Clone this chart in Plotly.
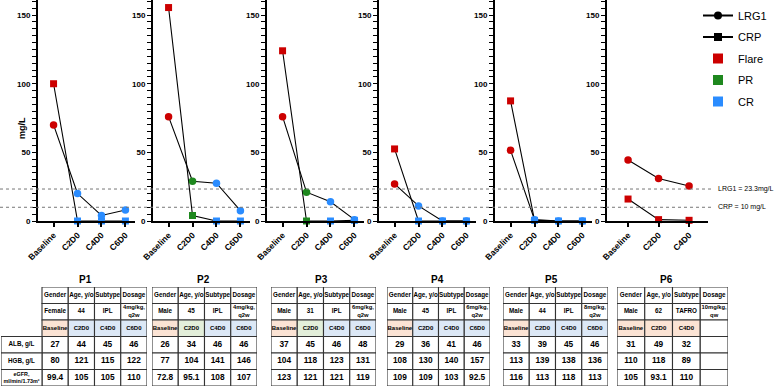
import plotly.graph_objects as go

W, H = 778, 392
FONT = "Liberation Sans, Arial, sans-serif"

# ---------------- data ----------------
patients = ["P1", "P2", "P3", "P4", "P5", "P6"]
timepoints = ["Baseline", "C2D0", "C4D0", "C6D0"]

lrg1 = [
    [70, 20, 4, 8],
    [76, 29, 27.5, 7.5],
    [76, 21, 14, 1],
    [27, 11, 0, 0],
    [51.5, 1, 0, 0],
    [44.5, 31, 25.5],
]
crp = [
    [100, 0, 0, 0],
    [155.5, 4, 0, 0],
    [124, 0, 0, 0.5],
    [52.5, 0, 0, 0],
    [87.5, 0.5, 0, 0],
    [16, 1, 0.5],
]
status = [
    ["Flare", "CR", "CR", "CR"],
    ["Flare", "PR", "CR", "CR"],
    ["Flare", "PR", "CR", "CR"],
    ["Flare", "CR", "CR", "CR"],
    ["Flare", "CR", "CR", "CR"],
    ["Flare", "Flare", "Flare"],
]
ref_values = [23.3, 10]
ref_labels = ["LRG1 = 23.3mg/L", "CRP = 10 mg/L"]
y_tick_step = 5
y_label_step = 50

table_header = ["Gender", "Age, y/o", "Subtype", "Dosage"]
gender = ["Female", "Male", "Male", "Male", "Male", "Male"]
age = ["44", "45", "31", "45", "44", "62"]
subtype = ["IPL", "IPL", "IPL", "IPL", "IPL", "TAFRO"]
dosage = ["4mg/kg,<br>q2w", "4mg/kg,<br>q2w", "6mg/kg,<br>q2w", "6mg/kg,<br>q2w",
          "8mg/kg,<br>q2w", "10mg/kg,<br>qw"]
row_labels = ["ALB, g/L", "HGB, g/L", "eGFR,<br>ml/min/1.73m²"]
alb = [[27, 44, 45, 46], [26, 34, 46, 46], [37, 45, 46, 48],
       [29, 36, 41, 46], [33, 39, 45, 46], [31, 49, 32]]
hgb = [[80, 121, 115, 122], [77, 104, 141, 146], [104, 118, 123, 131],
       [108, 130, 140, 157], [113, 139, 138, 136], [110, 118, 89]]
egfr = [["99.4", "105", "105", "110"], ["72.8", "95.1", "108", "107"],
        ["123", "121", "121", "119"], ["109", "109", "103", "92.5"],
        ["116", "113", "118", "113"], ["105", "93.1", "110"]]

# ---------------- styles ----------------
marker_color = {"Flare": "#CC0000", "PR": "#1E881E", "CR": "#2A8CFF"}
fill_color = {"Flare": "#FBE3D4", "PR": "#E3EFDA", "CR": "#DCE8F6"}

# layout geometry (pixels)
plot_left = [38, 153, 267, 379, 495, 607]
plot_len = [97, 97, 97, 97, 97, 101]
x_ranges = [[-0.65, 3.4]] * 5 + [[-0.69, 2.62]]
plot_bottom_px = 221
y_range = [0, 161]
table_left = [42, 152, 271, 387, 503, 617]
table_w = [105, 105, 105, 103, 105, 111]
label_col_w = 41
table_top_px, table_bot_px = 287, 386
title_x = [85, 203, 321, 437, 551, 666]
title_y = 279


def px(x):
    return x / W


def py(y):
    return 1 - y / H


y_tickvals = list(range(0, int(y_range[1]) + 1, y_tick_step))
y_ticktext = [str(v) if v % y_label_step == 0 else "" for v in y_tickvals]

fig = go.Figure()
layout = dict(
    template="none",
    width=W, height=H, margin=dict(l=0, r=0, t=0, b=0, pad=0),
    paper_bgcolor="white", plot_bgcolor="rgba(0,0,0,0)",
    font=dict(family=FONT, color="black"),
    showlegend=True,
    legend=dict(x=px(698), y=py(1), xanchor="left", yanchor="top",
                font=dict(size=11, family=FONT, color="black"),
                bgcolor="rgba(0,0,0,0)", tracegroupgap=2.5, itemwidth=30),
)
shapes = []
annotations = []

for i, p in enumerate(patients):
    k = i + 1
    xs = "x" if k == 1 else f"x{k}"
    ys = "y" if k == 1 else f"y{k}"
    n = len(lrg1[i])
    cats = timepoints[:n]
    cols = [marker_color[s] for s in status[i]]
    for vals, sym, msize in ((crp[i], "square", 7), (lrg1[i], "circle", 7.5)):
        fig.add_trace(go.Scatter(
            x=cats, y=vals, mode="lines+markers", xaxis=xs, yaxis=ys,
            line=dict(color="black", width=1.1),
            marker=dict(symbol=sym, size=msize, color=cols, line=dict(width=0)),
            cliponaxis=False, showlegend=False, hoverinfo="skip"))
    layout["xaxis" if k == 1 else f"xaxis{k}"] = dict(
        domain=[px(plot_left[i]), px(plot_left[i] + plot_len[i])],
        anchor=ys, type="category", range=x_ranges[i],
        categoryorder="array", categoryarray=cats,
        showline=True, linecolor="black", linewidth=2, layer="above traces",
        ticks="outside", ticklen=4, tickwidth=1.5, tickcolor="black",
        tickangle=-45, showgrid=False, zeroline=False, fixedrange=True,
        tickfont=dict(family=FONT, size=8.5, color="black", weight="bold"))
    layout["yaxis" if k == 1 else f"yaxis{k}"] = dict(
        domain=[py(plot_bottom_px), 1], anchor=xs, range=y_range,
        showline=True, linecolor="black", linewidth=2, layer="above traces",
        tickmode="array", tickvals=y_tickvals, ticktext=y_ticktext,
        ticks="outside", ticklen=4, tickwidth=1.3, tickcolor="black",
        showgrid=False, zeroline=False, fixedrange=True,
        tickfont=dict(family=FONT, size=8, color="black", weight="bold"))

    # ---------------- table ----------------
    kt = i + 7
    xt, yt = f"x{kt}", f"y{kt}"
    colw = table_w[i] / 4
    left_units = -label_col_w / colw if i == 0 else 0
    dom_left = table_left[i] + left_units * colw
    layout[f"xaxis{kt}"] = dict(domain=[px(dom_left), px(table_left[i] + table_w[i])],
                                range=[left_units, 4], visible=False, fixedrange=True,
                                anchor=yt)
    layout[f"yaxis{kt}"] = dict(domain=[py(table_bot_px), py(table_top_px)],
                                range=[6, 0], visible=False, fixedrange=True, anchor=xt)
    rows = [table_header,
            [gender[i], age[i], subtype[i], dosage[i]],
            [timepoints[c] if c < n else "" for c in range(4)],
            [str(v) for v in alb[i]] + [""] * (4 - n),
            [str(v) for v in hgb[i]] + [""] * (4 - n),
            list(egfr[i]) + [""] * (4 - n)]
    sizes_row = [6.3, 6.3, 6.0, 8.3, 8.3, 8.3]
    tx, ty, tt, ts = [], [], [], []
    for r, row in enumerate(rows):
        for c, txt in enumerate(row):
            fill = "white"
            if r == 2 and c < n:
                fill = fill_color[status[i][c]]
            shapes.append(dict(type="rect", xref=xt, yref=yt, x0=c, x1=c + 1, y0=r, y1=r + 1,
                               fillcolor=fill, line=dict(color="#333333", width=1.1),
                               layer="below"))
            tx.append(c + 0.5)
            ty.append(r + 0.5)
            tt.append(txt)
            ts.append(5.8 if "<br>" in txt else sizes_row[r])
    if i == 0:
        for j, lab in enumerate(row_labels):
            r = 3 + j
            shapes.append(dict(type="rect", xref=xt, yref=yt, x0=left_units, x1=0,
                               y0=r, y1=r + 1, fillcolor="white",
                               line=dict(color="#333333", width=1.1), layer="below"))
            tx.append(left_units / 2)
            ty.append(r + 0.5)
            tt.append(lab)
            ts.append(5.4 if "<br>" in lab else 6.3)
    fig.add_trace(go.Scatter(x=tx, y=ty, text=tt, mode="text", xaxis=xt, yaxis=yt,
                             textfont=dict(family=FONT, size=ts, color="black", weight="bold"),
                             cliponaxis=False, showlegend=False, hoverinfo="skip"))

    annotations.append(dict(xref="paper", yref="paper", x=px(title_x[i]), y=py(title_y),
                            text=p, showarrow=False, xanchor="center", yanchor="middle",
                            font=dict(family=FONT, size=10, color="black", weight="bold")))

# reference lines
for val, lab in zip(ref_values, ref_labels):
    shapes.append(dict(type="line", xref="paper", yref="y", x0=0, x1=px(712), y0=val, y1=val,
                       line=dict(color="#777777", width=1, dash="dot")))
    annotations.append(dict(xref="paper", yref="y", x=px(716), y=val, text=lab,
                            showarrow=False, xanchor="left", yanchor="middle",
                            font=dict(family=FONT, size=7, color="black")))

annotations.append(dict(xref="paper", yref="paper", x=px(15), y=py(115), text="mg/L",
                        textangle=-90, showarrow=False,
                        font=dict(family=FONT, size=9, color="black", weight="bold")))

# legend entries
legend_items = [("LRG1", "lines+markers", "circle", "black"),
                ("CRP", "lines+markers", "square", "black"),
                ("Flare", "markers", "square", marker_color["Flare"]),
                ("PR", "markers", "square", marker_color["PR"]),
                ("CR", "markers", "square", marker_color["CR"])]
for name, mode, sym, col in legend_items:
    fig.add_trace(go.Scatter(x=[None], y=[None], mode=mode, name=name, legendgroup=name,
                             marker=dict(symbol=sym, size=10 if mode == "markers" else 8, color=col),
                             line=dict(color="black", width=2), xaxis="x", yaxis="y"))

layout["shapes"] = shapes
layout["annotations"] = annotations
fig.update_layout(**layout)
fig.write_html("out.html")
